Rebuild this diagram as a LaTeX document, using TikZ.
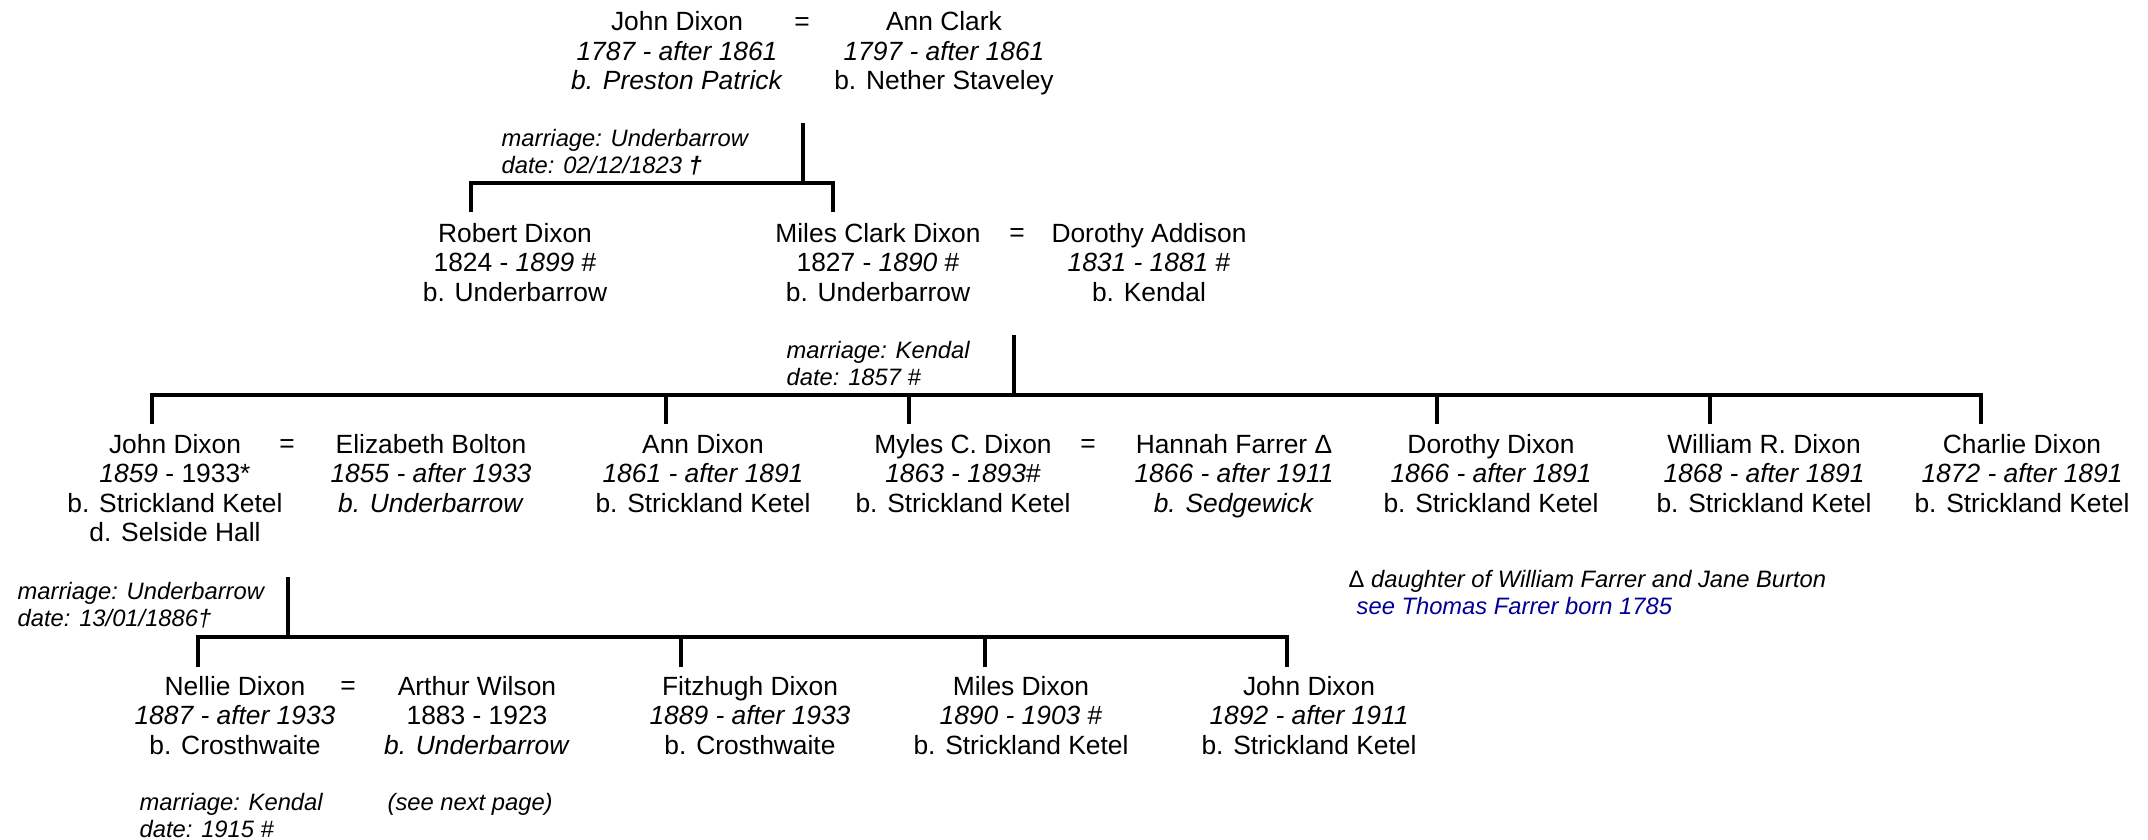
\documentclass[tikz,border=0pt]{standalone}
\usepackage{fontspec}
\setmainfont{Liberation Sans}
\usepackage{xcolor}
\usetikzlibrary{positioning}
\definecolor{seeblue}{RGB}{0,0,150}
\tikzset{
	person/.style={align=center,anchor=north,inner sep=0pt,font=\fontsize{7.5}{8.35}\selectfont},
	wed/.style={anchor=base,inner sep=0pt,font=\fontsize{7.5}{8.35}\selectfont},
	note/.style={align=left,anchor=north west,inner sep=0pt,font=\fontsize{6.75}{7.7}\selectfont\itshape},
	line/.style={line width=0.95pt}
}

\begin{document}
\begin{tikzpicture}[x=0.01cm,y=-0.01cm]
	\useasboundingbox (0,0) rectangle (2148,839);
	\node [person] (jdixon) at (677,11) {John Dixon\\\textit{1787 - after 1861}\\\textit{b. Preston Patrick}};
	\node [wed] (eq1) at (802,30) {=};
	\node [person] (aclark) at (944,11) {Ann Clark\\\textit{1797 - after 1861}\\b. Nether Staveley};
	\node [person] (rdixon) at (515,222.6) {Robert Dixon\\1824 - \textit{1899} \#\\b. Underbarrow};
	\node [person] (mcdixon) at (878,222.6) {Miles Clark Dixon\\1827 - \textit{1890} \#\\b. Underbarrow};
	\node [wed] (eq2) at (1017,241.4) {=};
	\node [person] (daddison) at (1149,222.6) {Dorothy Addison\\\textit{1831 - 1881} \#\\b. Kendal};
	\node [person] (jdixon2) at (175,433.6) {John Dixon\\\textit{1859} - 1933*\\b. Strickland Ketel\\d. Selside Hall};
	\node [wed] (eq3) at (287,452.4) {=};
	\node [person] (ebolton) at (431,433.6) {Elizabeth Bolton\\\textit{1855 - after 1933}\\\textit{b. Underbarrow}};
	\node [person] (adixon) at (703,433.6) {Ann Dixon\\\textit{1861 - after 1891}\\b. Strickland Ketel};
	\node [person] (mycdixon) at (963,433.6) {Myles C. Dixon\\\textit{1863 - 1893}\#\\b. Strickland Ketel};
	\node [wed] (eq4) at (1088,452.4) {=};
	\node [person] (hfarrer) at (1234,433.6) {Hannah Farrer Δ\\\textit{1866 - after 1911}\\\textit{b. Sedgewick}};
	\node [person] (ddixon) at (1491,433.6) {Dorothy Dixon\\\textit{1866 - after 1891}\\b. Strickland Ketel};
	\node [person] (wrdixon) at (1764,433.6) {William R. Dixon\\\textit{1868 - after 1891}\\b. Strickland Ketel};
	\node [person] (cdixon) at (2022,433.6) {Charlie Dixon\\\textit{1872 - after 1891}\\b. Strickland Ketel};
	\node [person] (ndixon) at (235,675.6) {Nellie Dixon\\\textit{1887 - after 1933}\\b. Crosthwaite};
	\node [wed] (eq5) at (348,694.4) {=};
	\node [person] (awilson) at (477,675.6) {Arthur Wilson\\1883 - 1923\\\textit{b. Underbarrow}};
	\node [person] (fdixon) at (750,675.6) {Fitzhugh Dixon\\\textit{1889 - after 1933}\\b. Crosthwaite};
	\node [person] (mdixon) at (1021,675.6) {Miles Dixon\\\textit{1890 - 1903} \#\\b. Strickland Ketel};
	\node [person] (jdixon3) at (1309,675.6) {John Dixon\\\textit{1892 - after 1911}\\b. Strickland Ketel};
	\node [note] (wed1) at (501,128.5) {marriage: Underbarrow\\date: 02/12/1823 \textbf{†}};
	\node [note] (wed2) at (786,341) {marriage: Kendal\\date: 1857 \#};
	\node [note] (wed3) at (17,581.5) {marriage: Underbarrow\\date: 13/01/1886†};
	\node [note] (wed4) at (139,792.5) {marriage: Kendal\\date: 1915 \#};
	\node [note] (nextpage) at (387,792.5) {(see next page)};
	\node [note] (deltanote) at (1348,569.5) {\textup{Δ} daughter of William Farrer and Jane Burton};
	\node [note,text=seeblue] (seelink) at (1356,596.5) {see Thomas Farrer born 1785};
	\coordinate (m1) at (803,123);
	\coordinate (bus1) at (803,183);
	\coordinate (t-rob) at (471,212);
	\coordinate (t-mil) at (833,212);
	\draw [line] (m1) -- (bus1);
	\draw [line] (t-rob) -- (t-rob |- bus1) -- (t-mil |- bus1) -- (t-mil);
	\coordinate (m2) at (1014,335);
	\coordinate (bus2) at (1014,395);
	\coordinate (t-joh) at (152,424);
	\coordinate (t-ann) at (666,424);
	\coordinate (t-myl) at (909,424);
	\coordinate (t-dor) at (1437,424);
	\coordinate (t-wil) at (1710,424);
	\coordinate (t-cha) at (1981,424);
	\draw [line] (m2) -- (bus2);
	\draw [line] (t-joh) -- (t-joh |- bus2) -- (t-cha |- bus2) -- (t-cha);
	\foreach \t in {t-ann,t-myl,t-dor,t-wil}
		\draw [line] (\t) -- (\t |- bus2);
	\coordinate (m3) at (288,577);
	\coordinate (bus3) at (288,637);
	\coordinate (t-nel) at (198,667);
	\coordinate (t-fit) at (681,667);
	\coordinate (t-mls) at (985,667);
	\coordinate (t-jon) at (1287,667);
	\draw [line] (m3) -- (bus3);
	\draw [line] (t-nel) -- (t-nel |- bus3) -- (t-jon |- bus3) -- (t-jon);
	\foreach \t in {t-fit,t-mls}
		\draw [line] (\t) -- (\t |- bus3);
\end{tikzpicture}
\end{document}
